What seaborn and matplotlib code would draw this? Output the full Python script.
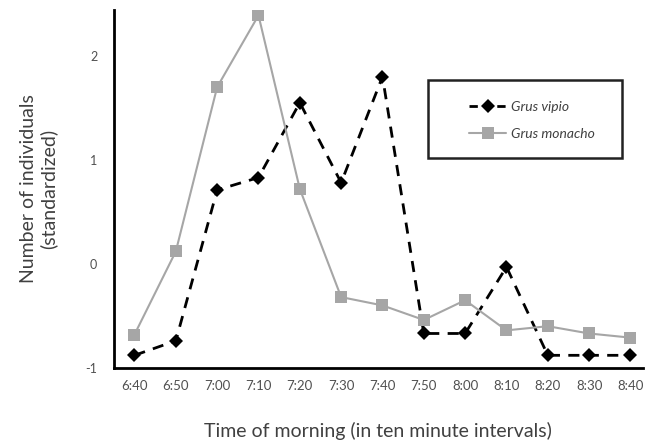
import numpy as np
import pandas as pd
import matplotlib
matplotlib.use('Agg')
import matplotlib.pyplot as plt
import seaborn as sns
from matplotlib.lines import Line2D
from matplotlib.patches import Rectangle

# valores
horarios = ['6:40', '6:50', '7:00', '7:10', '7:20', '7:30', '7:40',
            '7:50', '8:00', '8:10', '8:20', '8:30', '8:40']
grus_vipio = [-0.88, -0.74, 0.71, 0.83, 1.55, 0.78, 1.80,
              -0.67, -0.67, -0.03, -0.88, -0.88, -0.88]
grus_monacho = [-0.68, 0.12, 1.70, 2.39, 0.72, -0.32, -0.40,
                -0.54, -0.35, -0.64, -0.60, -0.67, -0.71]
especies = ['Grus vipio', 'Grus monacho']

idx = np.arange(len(horarios))
df = pd.DataFrame({
    'pos': np.concatenate([idx, idx]),
    'valor': grus_vipio + grus_monacho,
    'especie': [especies[0]] * len(idx) + [especies[1]] * len(idx),
})

sns.set_style('white')
plt.rcParams['font.family'] = ['Lato', 'DejaVu Sans']

cinza = '#a6a6a6'
fig = plt.figure(figsize=(6.58, 4.41), dpi=100)
ax = fig.add_axes([0.173, 0.166, 0.804, 0.811])

sns.lineplot(data=df, x='pos', y='valor', hue='especie', style='especie',
             palette={especies[0]: 'black', especies[1]: cinza},
             dashes={especies[0]: (4, 3), especies[1]: ''},
             markers={especies[0]: 'D', especies[1]: 's'},
             markersize=8, markeredgewidth=0, ax=ax, legend=False)
ax.lines[0].set_linewidth(2.0)
ax.lines[0].set_markersize(7)
ax.lines[1].set_linewidth(1.5)

ax.set_xlim(-0.5, 12.3)
ax.set_ylim(-1, 2.44)
ax.set_xticks(idx)
ax.set_xticklabels(horarios, fontsize=9.5, color='#505050')
ax.set_xticks(np.arange(0.5, 12.5, 1), minor=True)
ax.tick_params(axis='x', which='major', length=0, pad=9)
ax.tick_params(axis='x', which='minor', length=4, width=1.5, direction='out', color='black')
ax.set_yticks([-1, 0, 1, 2])
ax.set_yticklabels(['-1', '0', '1', '2'], fontsize=9, color='#505050')
ax.tick_params(axis='y', length=4, width=1.5, direction='out', color='black', pad=8)

for s in ['top', 'right']:
    ax.spines[s].set_visible(False)
for s in ['left', 'bottom']:
    ax.spines[s].set_linewidth(2)
    ax.spines[s].set_color('black')

ax.set_xlabel('Time of morning (in ten minute intervals)', fontsize=14, color='#404040', labelpad=21)
ax.set_ylabel('Number of individuals\n(standardized)', fontsize=14, color='#404040', labelpad=20)

# legenda com caixa desenhada à parte
caixa = Rectangle((428 / 658, 1 - 158 / 441), 194 / 658, 78 / 441, transform=fig.transFigure,
                  fill=False, edgecolor='#222222', linewidth=1.8)
fig.patches.append(caixa)
handles = [Line2D([], [], color='black', linestyle=(0, (3, 2)), linewidth=2, marker='D', markersize=7, markeredgewidth=0),
           Line2D([], [], color=cinza, linewidth=1.5, marker='s', markersize=8, markeredgewidth=0)]
leg = fig.legend(handles, especies, loc='upper left', bbox_to_anchor=(462 / 658, 1 - 94 / 441),
                 frameon=False, borderpad=0, handlelength=2.7, handletextpad=0.35,
                 labelspacing=1.05, prop={'style': 'italic', 'size': 10})
for t in leg.get_texts():
    t.set_color('#404040')

plt.savefig('out.png', dpi=100)
